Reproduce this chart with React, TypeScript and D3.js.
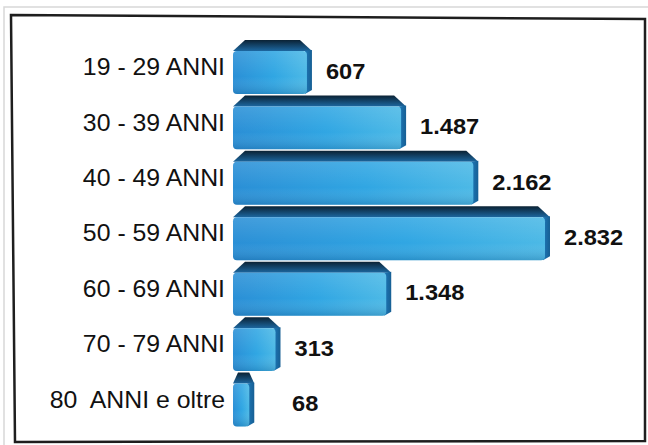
import React from "react";
import * as d3 from "d3";

const categories = [
  "19 - 29 ANNI",
  "30 - 39 ANNI",
  "40 - 49 ANNI",
  "50 - 59 ANNI",
  "60 - 69 ANNI",
  "70 - 79 ANNI",
  "80  ANNI e oltre",
];
const values = [607, 1487, 2162, 2832, 1348, 313, 68];
const valueLabels = ["607", "1.487", "2.162", "2.832", "1.348", "313", "68"];

const W = 648;
const H = 445;
const X0 = 233;
const FONT = "'Liberation Sans', Arial, Helvetica, sans-serif";

export default function App() {
  const side = 7;
  const x = d3.scaleLinear().domain([0, 2832]).range([247 - side, 550 - side]);
  const y = d3.scaleBand<string>().domain(categories).range([39, 427]).paddingInner(0).paddingOuter(0);
  const bw = y.bandwidth();
  const depth = 11;

  return (
    <svg
      width={W}
      height={H}
      viewBox={`0 0 ${W} ${H}`}
      style={{ position: "absolute", left: 0, top: 0, background: "#fff" }}
    >
      <defs>
        <linearGradient id="front" x1="0" y1="0" x2="1" y2="0">
          <stop offset="0%" stopColor="#2a8fd6" />
          <stop offset="55%" stopColor="#30a6e3" />
          <stop offset="100%" stopColor="#4cb9e6" />
        </linearGradient>
        <linearGradient id="frontV" x1="0" y1="0" x2="0" y2="1">
          <stop offset="0%" stopColor="#ffffff" stopOpacity="0.12" />
          <stop offset="60%" stopColor="#ffffff" stopOpacity="0" />
          <stop offset="100%" stopColor="#003060" stopOpacity="0.2" />
        </linearGradient>
        <linearGradient id="top" x1="0" y1="0" x2="0" y2="1">
          <stop offset="0%" stopColor="#0b2234" />
          <stop offset="100%" stopColor="#1c67a0" />
        </linearGradient>
        <linearGradient id="side" x1="0" y1="0" x2="1" y2="0">
          <stop offset="0%" stopColor="#1d78b8" />
          <stop offset="100%" stopColor="#175f94" />
        </linearGradient>
      </defs>

      <path d="M4,445 L4,7 L648,7" fill="none" stroke="#d8d8d8" strokeWidth={1.5} />
      <polygon
        points="11,15 645,19 645,441 15,442"
        fill="#fff"
        stroke="#1e1e1e"
        strokeWidth={2.5}
      />

      {categories.map((c, i) => {
        const v = values[i];
        const b = y(c) as number;
        const yT = b + 1;
        const yB = b + bw - 0.5;
        const yF = yT + depth;
        const xe = x(v);
        const inset = Math.min(12, (xe - X0) * 0.35);
        const cy = b + bw / 2;
        const labelX = Math.max(xe + side + 14, 292);
        return (
          <g key={c}>
            <polygon
              points={`${X0},${yF} ${X0 + inset},${yT} ${xe + side - inset},${yT} ${xe + side},${yF}`}
              fill="url(#top)"
            />
            <polygon
              points={`${xe},${yF} ${xe + side},${yF - 1} ${xe + side},${yB - 4} ${xe},${yB}`}
              fill="url(#side)"
            />
            <rect
              x={X0}
              y={yF}
              width={Math.max(xe - X0 + 2, 6)}
              height={yB - yF}
              rx={4}
              fill="url(#front)"
            />
            <rect
              x={X0}
              y={yF}
              width={Math.max(xe - X0 + 2, 6)}
              height={yB - yF}
              rx={4}
              fill="url(#frontV)"
            />
            <text
              x={225}
              y={cy + 8.5}
              textAnchor="end"
              fontFamily={FONT}
              fontSize={23}
              fill="#111"
              style={{ whiteSpace: "pre" }}
              transform={`translate(225,0) scale(1.08,1) translate(-225,0)`}
            >
              {c}
            </text>
            <text
              x={labelX}
              y={cy + 12}
              fontFamily={FONT}
              fontSize={21.5}
              fontWeight="bold"
              fill="#111"
              transform={`translate(${labelX},0) scale(1.1,1) translate(${-labelX},0)`}
            >
              {valueLabels[i]}
            </text>
          </g>
        );
      })}
    </svg>
  );
}
